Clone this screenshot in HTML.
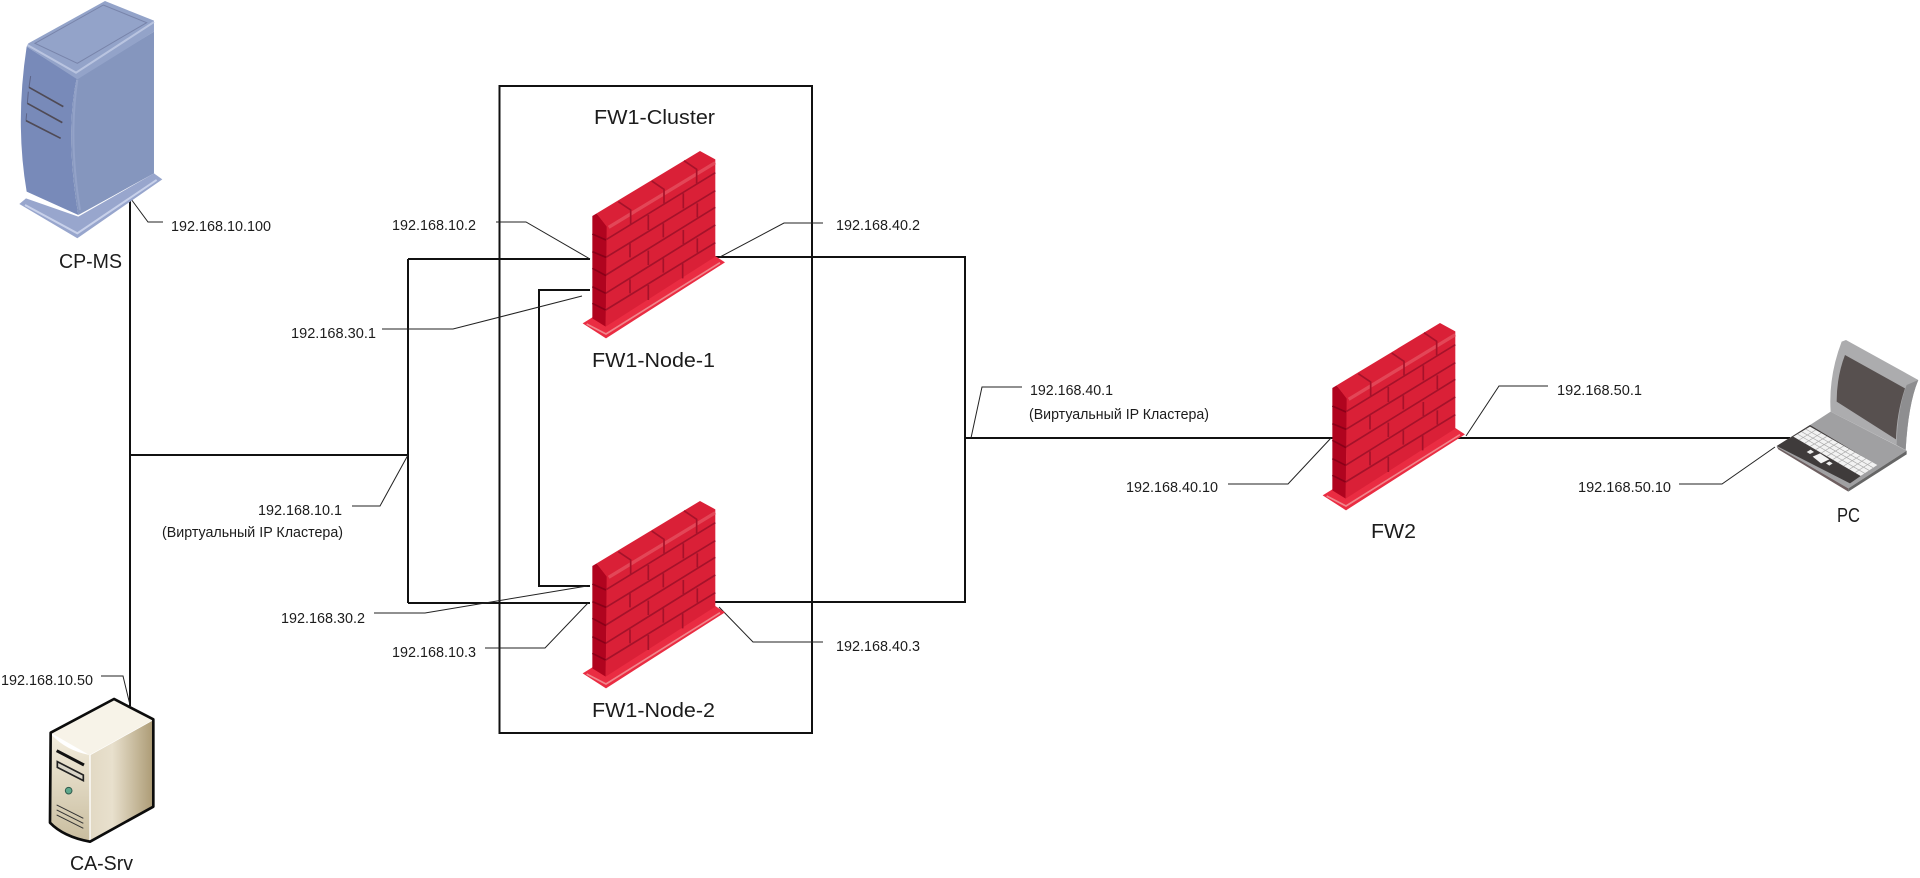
<!DOCTYPE html>
<html><head><meta charset="utf-8"><style>
html,body{margin:0;padding:0;background:#fff;width:1920px;height:878px;overflow:hidden}
svg{display:block}
text{font-family:"Liberation Sans",sans-serif;fill:#1c1c1c}
.s{font-size:14.5px}.b{font-size:20px}
.t{fill:none;stroke:#222;stroke-width:1}
.m{fill:none;stroke:#111;stroke-width:2}
</style></head><body>
<svg width="1920" height="878" viewBox="0 0 1920 878" xmlns="http://www.w3.org/2000/svg">
<defs>
<linearGradient id="cf" x1="0" y1="0" x2="0" y2="1"><stop offset="0" stop-color="#f3eddd"/><stop offset="1" stop-color="#c9bd9f"/></linearGradient>
<linearGradient id="cr" x1="0" y1="0" x2="1" y2="0"><stop offset="0" stop-color="#e2d9c4"/><stop offset=".35" stop-color="#e8e0cd"/><stop offset="1" stop-color="#ad9c76"/></linearGradient>
<g id="wall">
<polygon points="68,580 97,562 466,378 495,397 138,625" fill="#ea2c42"/>
<polyline points="80,582 138,612 480,398" fill="none" stroke="#f0858c" stroke-width="5"/>
<polygon points="97,258 110,250 142,290 137,590 97,565" fill="#b0041f"/>
<polygon points="110,250 420,63 466,88 466,380 137,590 140,290" fill="#da2037"/>
<polyline points="146,292 466,98" fill="none" stroke="#e9606c" stroke-width="10" opacity=".6"/>
<g fill="none" stroke="#a5122a" stroke-width="5">
<path d="M140,328L466,128M138,382L466,182M138,435L466,232M137,490L466,285M137,540L466,338"/>
<path d="M265,255V300M370,190V235M210,340V382M310,280V322M412,220V262M265,362V405M370,300V342M210,448V490M310,385V428M412,325V368M265,465V510M368,400V445"/>
<path d="M175,215L212,240V282M275,153L312,178V220M372,92L410,118V160"/>
<path d="M97,312L138,330M97,365L138,382M97,415L138,437M97,470L137,490M97,520L137,540" stroke="#8a0018"/>
</g>
</g>
</defs>
<rect width="1920" height="878" fill="#fff"/>

<!-- cluster box -->
<rect x="499.5" y="86" width="312.5" height="647" fill="none" stroke="#111" stroke-width="2"/>

<!-- main connectors -->
<path class="m" d="M130,200V706M130,455H408M408,259V603M408,259H590M408,603H590M590,290H539V586H590M715,257H965V602H715M965,438H1790"/>

<!-- leaders -->
<path class="t" d="M131,199L148,222H163"/>
<path class="t" d="M496,222H526L590,259"/>
<path class="t" d="M382,329H453L582,296"/>
<path class="t" d="M720,257L784,223H823"/>
<path class="t" d="M374,613H425L587,586"/>
<path class="t" d="M485,648H545L588,603"/>
<path class="t" d="M719,607L753,642H823"/>
<path class="t" d="M352,506H380L408,455"/>
<path class="t" d="M971,438L982,387H1022"/>
<path class="t" d="M1228,484H1288L1331,438"/>
<path class="t" d="M1466,436L1499,386H1548"/>
<path class="t" d="M1679,484H1722L1775,447"/>
<path class="t" d="M101,676H123L130,705"/>

<!-- walls -->
<g transform="translate(560,130) scale(.3333)"><use href="#wall"/></g>
<g transform="translate(560,480) scale(.3333)"><use href="#wall"/></g>
<g transform="translate(1300,302) scale(.3333)"><use href="#wall"/></g>

<!-- CP-MS -->
<g transform="scale(.3333)">
<polygon points="58,612 78,595 235,650 462,520 487,538 232,715" fill="#98a6cd"/>
<polyline points="75,615 232,700 470,540" fill="none" stroke="#c8d1ea" stroke-width="6"/>
<path d="M80,140L230,235Q195,400 235,645L80,575Q45,370 80,140Z" fill="#788ab9"/>
<path d="M230,235L462,95V520L235,645Q195,400 230,235Z" fill="#8596be"/>
<path d="M232,240Q205,420 240,630" fill="none" stroke="#93a2c8" stroke-width="6"/>
<path d="M85,130L315,3L462,62V95L232,238L80,140Z" fill="#93a3c9"/>
<polygon points="105,130 310,15 440,68 232,190" fill="none" stroke="#7884aa" stroke-width="3"/>
<polyline points="82,135 228,218 462,66" fill="none" stroke="#b9c4e0" stroke-width="6"/>
<path d="M92,228L87,262M85,275L82,310M80,340L78,362" fill="none" stroke="#5d6488" stroke-width="3"/>
<path d="M87,262L190,320M82,310L187,368M78,362L182,415" fill="none" stroke="#4f4a55" stroke-width="5"/>
</g>

<!-- CA-Srv -->
<g transform="translate(0,660) scale(.3333)">
<polygon points="155,220 342,120 458,180 268,285" fill="#f7f3e8"/>
<path d="M155,225Q200,272 268,285V543Q190,530 152,485Z" fill="url(#cf)"/>
<polygon points="272,285 458,182 458,440 272,543" fill="url(#cr)"/>
<path d="M152,218L342,117L460,178V440L270,545Q190,530 150,488Z" fill="none" stroke="#0c0c0c" stroke-width="8" stroke-linejoin="round"/>
<path d="M170,272L252,315" stroke="#111" stroke-width="9"/>
<path d="M172,305L250,345V362L172,322Z" fill="#d9d5c8" stroke="#222" stroke-width="5"/>
<circle cx="206" cy="392" r="10" fill="#5ea88c" stroke="#2f5b4c" stroke-width="3"/>
<path d="M170,435L250,475M170,450L250,490M170,465L250,505" stroke="#333" stroke-width="3"/>
</g>

<!-- Laptop -->
<g transform="translate(1740,320) scale(.3333)">
<path d="M305,65L318,60L535,180Q505,250 497,390L272,275Q265,170 305,65Z" fill="#acacae"/>
<path d="M535,180Q505,250 497,390L470,375Q472,270 500,195Z" fill="#8e8e90"/>
<path d="M315,105L495,205Q470,280 468,358L290,245Q290,170 315,105Z" fill="#57504f"/>
<polygon points="110,380 272,275 500,392 325,505" fill="#a0a0a2"/>
<polygon points="110,378 210,315 410,435 330,490" fill="#3f3b3b"/>
<polygon points="160,350 210,320 412,435 362,468" fill="#f2f2f2"/>
<path d="M172,342L374,460M185,335L387,451M197,327L399,443M177,360L227,330M194,370L244,339M211,379L261,349M227,389L277,359M244,399L294,368M261,409L311,378M278,419L328,388M294,428L345,397M311,438L361,407M328,448L378,416M345,458L395,426" fill="none" stroke="#aaa" stroke-width="2"/>
<polygon points="218,410 240,400 268,418 243,430" fill="#f4f4f4"/>
<polygon points="200,396 212,389 222,396 210,402" fill="#eee"/>
<polygon points="258,430 268,424 278,430 268,437" fill="#eee"/>
<polygon points="110,380 325,505 325,515 115,388" fill="#6d5f60"/>
<polygon points="325,505 500,392 500,403 325,515" fill="#666"/>
</g>

<!-- small labels -->
<g class="s">
<text class="s" x="171" y="231" textLength="100" lengthAdjust="spacingAndGlyphs">192.168.10.100</text>
<text class="s" x="392" y="230" textLength="84" lengthAdjust="spacingAndGlyphs">192.168.10.2</text>
<text class="s" x="291" y="338" textLength="85" lengthAdjust="spacingAndGlyphs">192.168.30.1</text>
<text class="s" x="836" y="230" textLength="84" lengthAdjust="spacingAndGlyphs">192.168.40.2</text>
<text class="s" x="281" y="623" textLength="84" lengthAdjust="spacingAndGlyphs">192.168.30.2</text>
<text class="s" x="392" y="657" textLength="84" lengthAdjust="spacingAndGlyphs">192.168.10.3</text>
<text class="s" x="836" y="651" textLength="84" lengthAdjust="spacingAndGlyphs">192.168.40.3</text>
<text class="s" x="258" y="515" textLength="84" lengthAdjust="spacingAndGlyphs">192.168.10.1</text>
<text class="s" x="162" y="537" textLength="181" lengthAdjust="spacingAndGlyphs">(Виртуальный IP Кластера)</text>
<text class="s" x="1030" y="395" textLength="83" lengthAdjust="spacingAndGlyphs">192.168.40.1</text>
<text class="s" x="1029" y="419" textLength="180" lengthAdjust="spacingAndGlyphs">(Виртуальный IP Кластера)</text>
<text class="s" x="1126" y="492" textLength="92" lengthAdjust="spacingAndGlyphs">192.168.40.10</text>
<text class="s" x="1557" y="395" textLength="85" lengthAdjust="spacingAndGlyphs">192.168.50.1</text>
<text class="s" x="1578" y="492" textLength="93" lengthAdjust="spacingAndGlyphs">192.168.50.10</text>
<text class="s" x="1" y="685" textLength="92" lengthAdjust="spacingAndGlyphs">192.168.10.50</text>
</g>

<!-- big labels -->
<text class="b" x="59" y="268" textLength="63" lengthAdjust="spacingAndGlyphs">CP-MS</text>
<text class="b" x="594" y="124" textLength="121" lengthAdjust="spacingAndGlyphs">FW1-Cluster</text>
<text class="b" x="592" y="367" textLength="123" lengthAdjust="spacingAndGlyphs">FW1-Node-1</text>
<text class="b" x="592" y="717" textLength="123" lengthAdjust="spacingAndGlyphs">FW1-Node-2</text>
<text class="b" x="1371" y="538" textLength="45" lengthAdjust="spacingAndGlyphs">FW2</text>
<text class="b" x="1837" y="522" textLength="23" lengthAdjust="spacingAndGlyphs">PC</text>
<text class="b" x="70" y="870" textLength="63" lengthAdjust="spacingAndGlyphs">CA-Srv</text>
</svg>
</body></html>
